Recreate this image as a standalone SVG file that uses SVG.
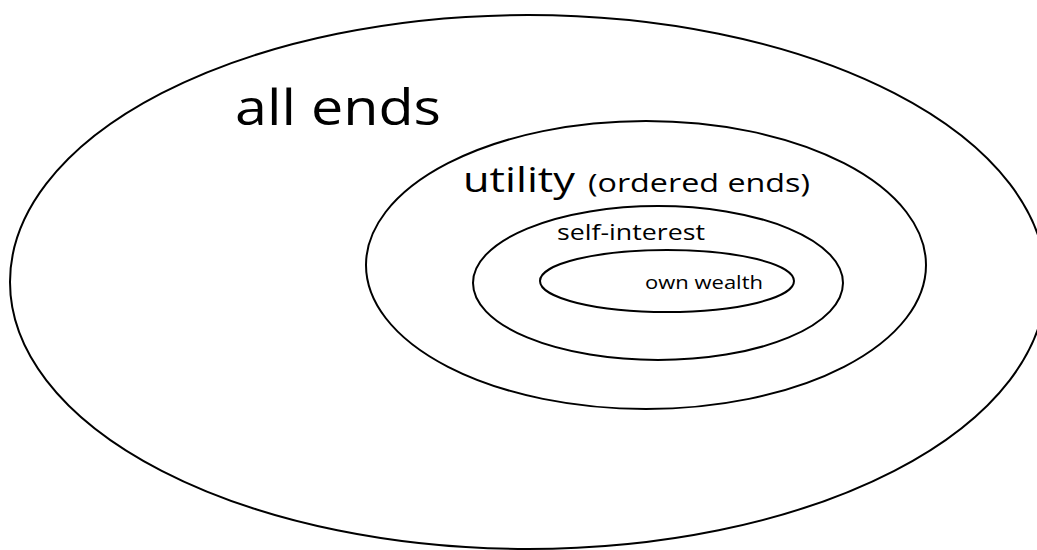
<svg xmlns="http://www.w3.org/2000/svg" width="1037" height="550" viewBox="0 0 1037 550">
<style>
.ring{fill:none;stroke:#000;stroke-width:2}
.t{font-family:"Open Sans","Noto Sans","Liberation Sans",sans-serif;fill:#000}
</style>
<rect width="1037" height="550" fill="#fff"/>
<g id="all-ends">
<ellipse class="ring" cx="528" cy="282" rx="518" ry="267"/>
<text class="t" x="235" y="125" font-size="50" textLength="206" lengthAdjust="spacingAndGlyphs">all ends</text>
</g>
<g id="utility">
<ellipse class="ring" cx="646" cy="265" rx="280" ry="144"/>
<text class="t" x="463" y="192" font-size="35" textLength="112" lengthAdjust="spacingAndGlyphs">utility</text>
<text class="t" x="588" y="192" font-size="25" textLength="222" lengthAdjust="spacingAndGlyphs">(ordered ends)</text>
</g>
<g id="self-interest">
<ellipse class="ring" cx="658" cy="283" rx="185" ry="77"/>
<text class="t" x="557" y="240" font-size="21" textLength="148" lengthAdjust="spacingAndGlyphs">self-interest</text>
</g>
<g id="own-wealth">
<ellipse class="ring" cx="667" cy="281" rx="127" ry="31"/>
<text class="t" x="645" y="289" font-size="18" textLength="118" lengthAdjust="spacingAndGlyphs">own wealth</text>
</g>
<g id="connectors"/>
</svg>
